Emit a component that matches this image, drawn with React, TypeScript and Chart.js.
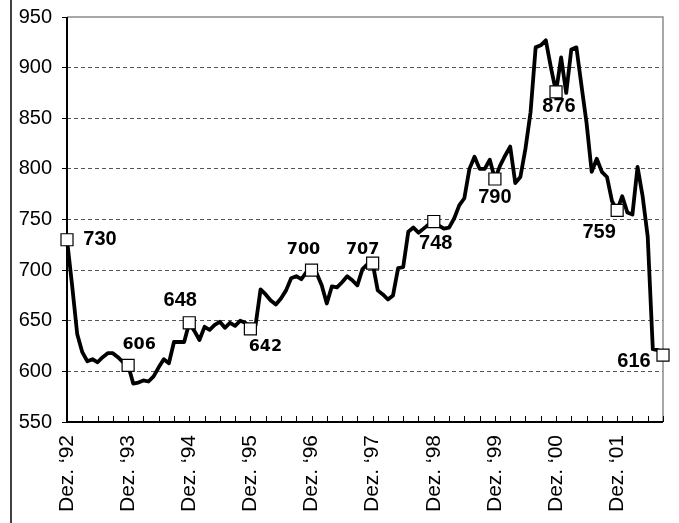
import React, { useEffect, useRef } from 'react';
import { Chart, registerables } from 'chart.js';

Chart.register(...registerables);

const yearLabels = [
  'Dez. ‘92', 'Dez. ‘93', 'Dez. ‘94', 'Dez. ‘95', 'Dez. ‘96',
  'Dez. ‘97', 'Dez. ‘98', 'Dez. ‘99', 'Dez. ‘00', 'Dez. ‘01',
];

const values = [
  730, 685, 637, 619, 610, 612, 609, 614, 618, 618, 614, 609,
  606, 588, 589, 591, 590, 595, 604, 612, 608, 629, 629, 629,
  648, 640, 631, 644, 641, 646, 649, 643, 648, 645, 650, 648,
  642, 645, 681, 676, 670, 666, 672, 680, 692, 694, 691, 698,
  700, 697, 685, 667, 684, 683, 688, 694, 690, 685, 701, 706,
  707, 680, 676, 671, 675, 702, 703, 738, 742, 737, 741, 745,
  748, 744, 741, 742, 751, 764, 771, 800, 812, 800, 800, 809,
  790, 803, 813, 822, 786, 792, 820, 856, 920, 922, 927, 900,
  876, 910, 875, 918, 920, 882, 845, 797, 810, 797, 792, 768,
  759, 773, 757, 755, 802, 773, 733, 622, 621, 616,
];

const markerIndices = [0, 12, 24, 36, 48, 60, 72, 84, 96, 108, 117];
const labelDx = [33, 11, -9, 15, -8, -10, 2, 0, 3, -18, -29];
const labelDy = [0, -20, -22, 18, -20, -13, 22, 18, 15, 22, 6];
const labelAltFont = [false, true, false, true, true, true, false, false, false, false, false];

const categories = values.map((_, i) => (i % 12 === 0 ? yearLabels[i / 12] : ''));

const AXIS_FONT = 'Liberation Sans, Arial, sans-serif';

const decor = {
  id: 'decor',
  beforeDatasetsDraw(chart: any) {
    const { ctx, chartArea: a, scales } = chart;
    const x = scales.x;
    ctx.save();
    ctx.setLineDash([]);
    ctx.strokeStyle = '#8c8c8c';
    ctx.lineWidth = 1.5;
    ctx.beginPath();
    ctx.moveTo(a.left, a.top);
    ctx.lineTo(a.right, a.top);
    ctx.lineTo(a.right, a.bottom);
    ctx.stroke();

    ctx.strokeStyle = '#000';
    ctx.lineWidth = 2;
    ctx.beginPath();
    ctx.moveTo(a.left, a.top);
    ctx.lineTo(a.left, a.bottom);
    ctx.lineTo(a.right, a.bottom);
    ctx.stroke();

    ctx.lineWidth = 1;
    ctx.beginPath();
    for (let i = 0; i < values.length; i += 3) {
      const px = Math.round(x.getPixelForValue(i)) + 0.5;
      ctx.moveTo(px, a.bottom);
      ctx.lineTo(px, a.bottom - 6);
    }
    ctx.stroke();

    ctx.lineWidth = 1.5;
    ctx.beginPath();
    ctx.moveTo(11, 0);
    ctx.lineTo(11, chart.height);
    ctx.stroke();
    ctx.restore();
  },
  afterDatasetsDraw(chart: any) {
    const { ctx } = chart;
    const meta = chart.getDatasetMeta(0);
    ctx.save();
    ctx.fillStyle = '#000';
    ctx.textAlign = 'center';
    ctx.textBaseline = 'middle';
    markerIndices.forEach((idx, k) => {
      const pt = meta.data[idx];
      ctx.font = labelAltFont[k]
        ? 'bold 16px "DejaVu Sans", Verdana, sans-serif'
        : 'bold 20px "Liberation Sans", Arial, sans-serif';
      ctx.fillText(String(values[idx]), pt.x + labelDx[k], pt.y + labelDy[k]);
    });
    ctx.restore();
  },
};

export default function App() {
  const ref = useRef<HTMLCanvasElement | null>(null);

  useEffect(() => {
    if (!ref.current) return;
    const chart = new Chart(ref.current, {
      type: 'line',
      data: {
        labels: categories,
        datasets: [
          {
            data: values,
            borderColor: '#000',
            borderWidth: 3.8,
            borderJoinStyle: 'round',
            tension: 0,
            fill: false,
            clip: false as any,
            pointStyle: 'rect',
            pointRadius: values.map((_, i) => (markerIndices.includes(i) ? 8.5 : 0)),
            pointBackgroundColor: '#fff',
            pointBorderColor: '#000',
            pointBorderWidth: 1.2,
            pointHoverRadius: 0,
          },
        ],
      },
      options: {
        animation: false,
        responsive: false,
        events: [],
        layout: { padding: { top: 17, right: 16, left: 0, bottom: 0 } },
        plugins: { legend: { display: false }, tooltip: { enabled: false } },
        scales: {
          x: {
            type: 'category',
            offset: false,
            grid: { display: false, drawOnChartArea: false, drawTicks: false },
            border: { display: false },
            ticks: {
              autoSkip: false,
              maxRotation: 90,
              minRotation: 90,
              padding: 13,
              color: '#000',
              font: { family: AXIS_FONT, size: 21 },
            },
            afterFit: (s: any) => {
              s.height = 101;
              s.paddingLeft = 0;
              s.paddingRight = 0;
            },
          },
          y: {
            min: 550,
            max: 950,
            ticks: {
              stepSize: 50,
              padding: 10,
              color: '#000',
              font: { family: AXIS_FONT, size: 20 },
            },
            grid: {
              color: (c: any) =>
                c.tick && (c.tick.value === 550 || c.tick.value === 950) ? 'rgba(0,0,0,0)' : '#555',
              lineWidth: 1,
              tickLength: 5,
              tickColor: '#000',
              tickWidth: 1,
              borderDash: [4, 3],
            } as any,
            border: { display: false, dash: [4, 3] },
            afterFit: (s: any) => {
              s.width = 67;
              s.paddingTop = 0;
              s.paddingBottom = 0;
            },
          },
        },
      },
      plugins: [decor],
    });
    return () => chart.destroy();
  }, []);

  return (
    <div style={{ position: 'absolute', left: 0, top: 0, width: 679, height: 523, background: '#fff' }}>
      <canvas ref={ref} width={679} height={523} style={{ width: 679, height: 523, display: 'block' }} />
    </div>
  );
}
